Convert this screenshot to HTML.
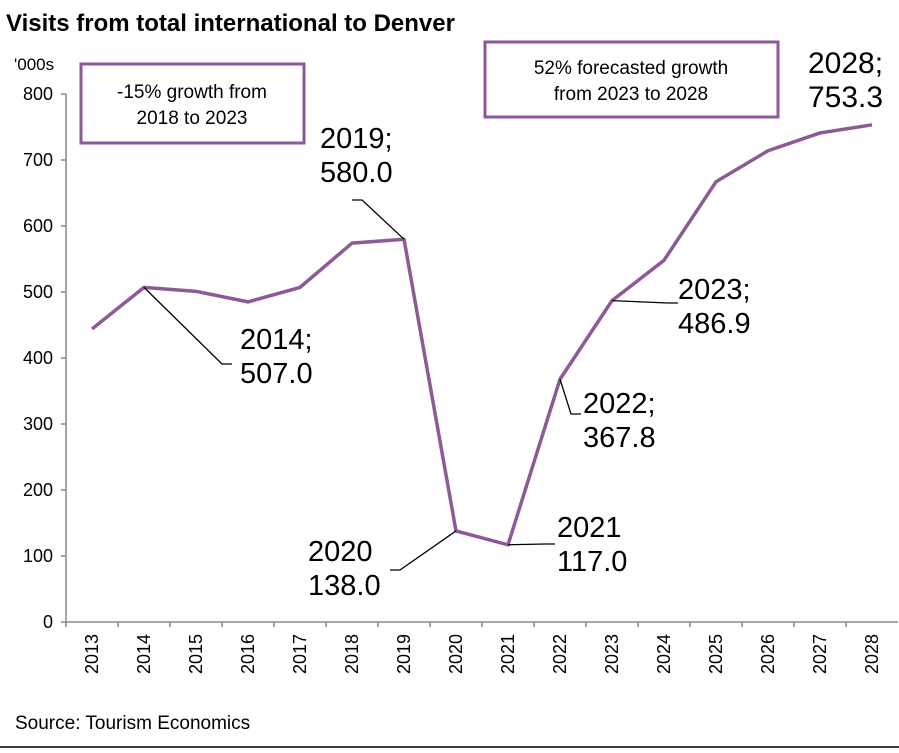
<!DOCTYPE html>
<html><head><meta charset="utf-8"><style>
body{margin:0;background:#fff;width:899px;height:748px;overflow:hidden;font-family:"Liberation Sans",sans-serif}
svg text{font-family:"Liberation Sans",sans-serif}
</style></head><body>
<svg id="c" width="899" height="748">
<text x="6" y="31" font-size="24" font-weight="bold" fill="#000">Visits from total international to Denver</text>
<text x="14" y="70" font-size="17">'000s</text>
<rect x="81" y="64" width="223" height="79" fill="none" stroke="#8c5a96" stroke-width="3"/>
<text x="192" y="98" font-size="19" text-anchor="middle">-15% growth  from</text>
<text x="192" y="124" font-size="19" text-anchor="middle">2018 to 2023</text>
<rect x="485" y="42" width="293" height="75" fill="none" stroke="#8c5a96" stroke-width="3"/>
<text x="631" y="74" font-size="19" text-anchor="middle">52% forecasted growth</text>
<text x="631" y="100" font-size="19" text-anchor="middle">from 2023 to 2028</text>
<g id="axes"></g><g id="marks"></g><g id="labels"></g>
<text x="15" y="729" font-size="19" font-family="DejaVu Sans">Source: Tourism Economics</text>
<line x1="0" y1="747" x2="899" y2="747" stroke="#000" stroke-width="1.5"/>
</svg>
<script>
const categories=["2013","2014","2015","2016","2017","2018","2019","2020","2021","2022","2023","2024","2025","2026","2027","2028"];
const visits=[444,507,501,485,507,574,580,138,117,367.8,486.9,548,667,714,741,753.3];
const yTicks=[0,100,200,300,400,500,600,700,800];
const annotations=[
 {i:1,t1:"2014;",t2:"507.0",lx:240,ly:349,ex:222,ey:364,fs:29},
 {i:6,t1:"2019;",t2:"580.0",lx:320,ly:148,ex:362,ey:200,fs:29},
 {i:7,t1:"2020",t2:"138.0",lx:308,ly:561,ex:400,ey:570,fs:29},
 {i:8,t1:"2021",t2:"117.0",lx:557,ly:537,ex:545,ey:544,fs:29},
 {i:9,t1:"2022;",t2:"367.8",lx:583,ly:413,ex:571,ey:414,fs:29},
 {i:10,t1:"2023;",t2:"486.9",lx:678,ly:299,ex:668,ey:303,fs:29},
 {i:15,t1:"2028;",t2:"753.3",lx:808,ly:73,ex:null,fs:30}
];
const NS="http://www.w3.org/2000/svg";
const X0=66,STEP=52,Y0=622,YS=0.66;
const xs=i=>X0+STEP*(i+0.5), ys=v=>Y0-v*YS;
function mk(t,a,p){const e=document.createElementNS(NS,t);for(const k in a)e.setAttribute(k,a[k]);p.appendChild(e);return e;}
const ax=document.getElementById('axes');
const ya=mk('line',{x1:X0,y1:ys(800),x2:X0,y2:Y0,stroke:'#888','stroke-width':1.5},ax);


yTicks.forEach(v=>{
 const tk=mk('line',{x1:X0-5,y1:ys(v),x2:X0,y2:ys(v),stroke:'#888','stroke-width':1.5},ax);
 
 
 const t=mk('text',{x:X0-13,y:ys(v)+6,'font-size':18,'text-anchor':'end'},ax);t.textContent=v;
 
 
});
const xa=mk('line',{x1:X0,y1:Y0,x2:X0+STEP*categories.length,y2:Y0,stroke:'#888','stroke-width':1.5},ax);


categories.forEach((c,i)=>{
 const tk=mk('line',{x1:X0+STEP*i,y1:Y0,x2:X0+STEP*i,y2:Y0+5,stroke:'#888','stroke-width':1.5},ax);
 
 
 const t=mk('text',{x:0,y:0,'font-size':18,'text-anchor':'end',transform:`translate(${xs(i)+6},${Y0+12}) rotate(-90)`},ax);t.textContent=c;
 
 
});
const pl=mk('polyline',{points:visits.map((v,i)=>xs(i)+','+ys(v)).join(' '),fill:'none',stroke:'#8c5a96','stroke-width':3.5,'stroke-linejoin':'round'},document.getElementById('marks'));


const lg=document.getElementById('labels');
annotations.forEach(a=>{
 if(a.ex!==null){
  const l=mk('polyline',{points:`${xs(a.i)},${ys(visits[a.i])} ${a.ex},${a.ey} ${a.ex+(a.ex<xs(a.i)?-10:10)},${a.ey}`,fill:'none',stroke:'#000','stroke-width':1.3},lg);
  
  
 }
 const t=mk('text',{x:a.lx,y:a.ly,'font-size':a.fs},lg);
 
 
 const s1=mk('tspan',{x:a.lx,dy:0},t);s1.textContent=a.t1;
 const s2=mk('tspan',{x:a.lx,dy:34},t);s2.textContent=a.t2;
});
</script>
</body></html>
